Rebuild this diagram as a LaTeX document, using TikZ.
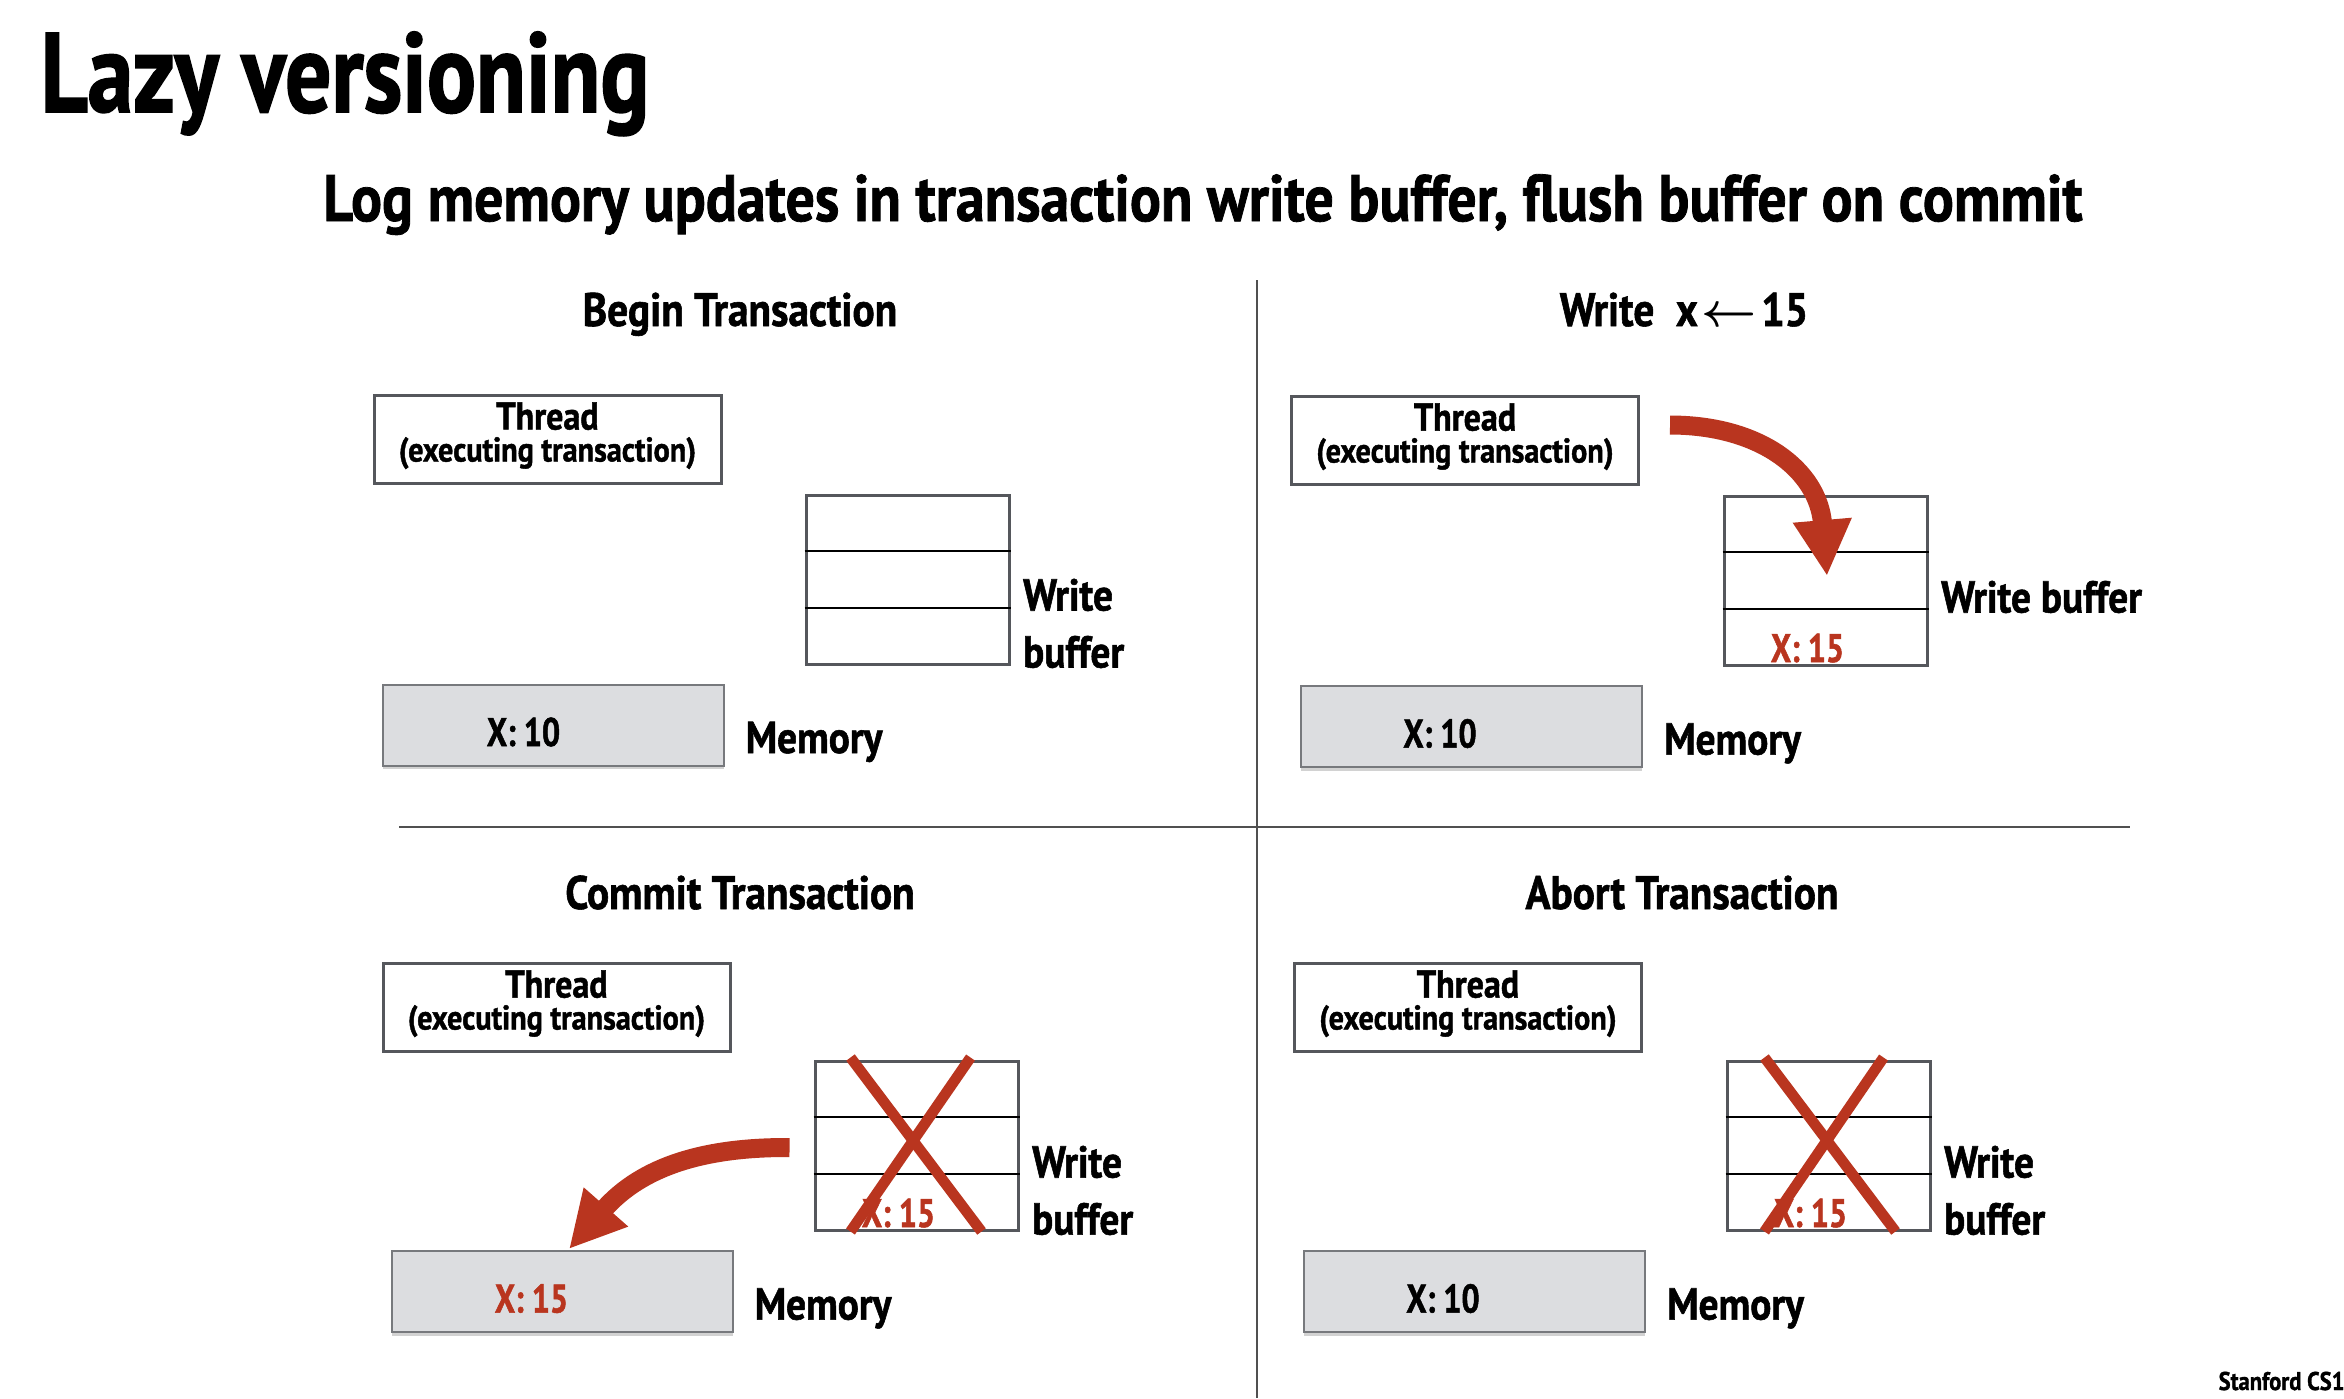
\documentclass[tikz,border=0pt]{standalone}
\usepackage{amsmath}
\usepackage{fontspec}
\setmainfont{PT Sans}[FakeStretch=0.88, FakeBold=1.2]
\newfontfamily\ftitle{PT Sans}[FakeStretch=0.81, FakeBold=1.4]
\newfontfamily\fval{PT Sans}[FakeStretch=0.80, FakeBold=1.2]
\usetikzlibrary{calc,arrows.meta,shadows}
\definecolor{hlred}{RGB}{185,53,31}
\definecolor{memfill}{RGB}{220,221,224}
\definecolor{boxline}{RGB}{85,87,92}
\definecolor{divline}{RGB}{80,80,80}
\tikzset{
  threadbox/.style={draw=boxline, line width=0.9pt, fill=white, minimum width=104.1pt, minimum height=26.4pt, inner sep=0pt},
  bufbox/.style={draw=boxline, line width=0.9pt, fill=white, minimum width=60.9pt, minimum height=50.7pt, inner sep=0pt},
  membox/.style={draw=boxline!80, line width=0.6pt, fill=memfill, minimum width=102.3pt, minimum height=24.3pt, inner sep=0pt, drop shadow={shadow xshift=0pt, shadow yshift=-1.1pt, opacity=0.35}},
  bufsep/.style={black, line width=0.75pt},
  divider/.style={divline, line width=0.6pt},
  redx/.style={hlred, line width=3.2pt},
  redarrow/.style={hlred, line width=5.7pt, -{Triangle[length=16.8pt,width=16.5pt]}},
  ttltxt/.style={font=\ftitle\fontsize{33.9}{40}\selectfont\bfseries, inner sep=0pt},
  subtxt/.style={font=\fontsize{19.7}{24}\selectfont\bfseries, inner sep=0pt},
  qtxt/.style={font=\fontsize{14.1}{17}\selectfont\bfseries, inner sep=0pt},
  thrtxt/.style={font=\fontsize{11.6}{14}\selectfont\bfseries, inner sep=0pt},
  exectxt/.style={font=\fontsize{10.3}{12}\selectfont\bfseries, inner sep=0pt},
  lbltxt/.style={font=\fontsize{13.4}{16}\selectfont\bfseries, inner sep=0pt, anchor=base west},
  valtxt/.style={font=\fval\fontsize{12}{14}\selectfont\bfseries, inner sep=0pt, anchor=base},
  foottxt/.style={font=\fontsize{7.7}{9}\selectfont\bfseries, inner sep=0pt, anchor=base west}
}
\begin{document}
\begin{tikzpicture}[x=0.3pt,y=-0.3pt]
\useasboundingbox (0,0) rectangle (2344,1398);
\fill[white] (0,0) rectangle (2344,1398);

% titles
\node[ttltxt, anchor=base west] (title) at (40,112) {Lazy versioning};
\node[subtxt, anchor=base] (subtitle) at (1203,221) {Log memory updates in transaction write buffer, flush buffer on commit};

% dividers
\draw[divider] (1257,280) -- (1257,1398);
\draw[divider] (399,827) -- (2130,827);

% quadrant titles
\node[qtxt, anchor=base] (q1) at (740,326) {Begin Transaction};
\node[qtxt, anchor=base] (q2) at (1684,326) {Write\hspace{6.5pt}x\hspace{1pt}$\boldsymbol{\leftarrow}$\hspace{1.5pt}15};
\node[qtxt, anchor=base] (q3) at (740,909) {Commit Transaction};
\node[qtxt, anchor=base] (q4) at (1682,909) {Abort Transaction};

% ---------- Quadrant 1: Begin ----------
\node[threadbox] (t1) at (547.5,439) {};
\node[thrtxt, anchor=base] (t1a) at ($(t1.north)+(0,36)$) {Thread};
\node[exectxt, anchor=base] (t1b) at ($(t1.north)+(0,68)$) {(executing transaction)};
\node[bufbox] (wb1) at (907.5,579.5) {};
\draw[bufsep] ($(wb1.north west)!1/3!(wb1.south west)$) -- ($(wb1.north east)!1/3!(wb1.south east)$);
\draw[bufsep] ($(wb1.north west)!2/3!(wb1.south west)$) -- ($(wb1.north east)!2/3!(wb1.south east)$);
\node[lbltxt] (wb1l1) at ($(wb1.east)+(12,31)$) {Write};
\node[lbltxt] (wb1l2) at ($(wb1.east)+(12,88)$) {buffer};
\node[membox] (m1) at (553.5,725) {};
\node[valtxt] (m1v) at ($(m1.center)+(-30,21)$) {X: 10};
\node[lbltxt] (m1l) at ($(m1.east)+(20,28)$) {Memory};

% ---------- Quadrant 2: Write ----------
\node[threadbox] (t2) at (1465,440) {};
\node[thrtxt, anchor=base] (t2a) at ($(t2.north)+(0,36)$) {Thread};
\node[exectxt, anchor=base] (t2b) at ($(t2.north)+(0,68)$) {(executing transaction)};
\node[bufbox] (wb2) at (1825.5,580.5) {};
\draw[bufsep] ($(wb2.north west)!1/3!(wb2.south west)$) -- ($(wb2.north east)!1/3!(wb2.south east)$);
\draw[bufsep] ($(wb2.north west)!2/3!(wb2.south west)$) -- ($(wb2.north east)!2/3!(wb2.south east)$);
\node[valtxt, text=hlred] (wb2v) at ($(wb2.center)+(-18,81.5)$) {X: 15};
\node[lbltxt] (wb2l) at ($(wb2.east)+(12,32)$) {Write buffer};
\node[membox] (m2) at (1471,726.5) {};
\node[valtxt] (m2v) at ($(m2.center)+(-31,21)$) {X: 10};
\node[lbltxt] (m2l) at ($(m2.east)+(21,28)$) {Memory};
\coordinate (a2s) at ($(t2.east)+(30,-15)$);
\coordinate (a2e) at (1827,576);
\draw[redarrow] (a2s) .. controls (1760,425) and (1818,470) .. (a2e);

% ---------- Quadrant 3: Commit ----------
\node[threadbox] (t3) at (556.5,1007) {};
\node[thrtxt, anchor=base] (t3a) at ($(t3.north)+(0,36)$) {Thread};
\node[exectxt, anchor=base] (t3b) at ($(t3.north)+(0,68)$) {(executing transaction)};
\node[bufbox] (wb3) at (916.5,1145.5) {};
\draw[bufsep] ($(wb3.north west)!1/3!(wb3.south west)$) -- ($(wb3.north east)!1/3!(wb3.south east)$);
\draw[bufsep] ($(wb3.north west)!2/3!(wb3.south west)$) -- ($(wb3.north east)!2/3!(wb3.south east)$);
\node[valtxt, text=hlred] (wb3v) at ($(wb3.center)+(-18,81.5)$) {X: 15};
\draw[redx] ($(wb3.north west)+(37,-2)$) -- ($(wb3.north west)+(168,172)$);
\draw[redx] ($(wb3.north west)+(157,-2)$) -- ($(wb3.north west)+(37,172)$);
\node[lbltxt] (wb3l1) at ($(wb3.east)+(12,32)$) {Write};
\node[lbltxt] (wb3l2) at ($(wb3.east)+(12,89)$) {buffer};
\node[membox] (m3) at (562.5,1291.5) {};
\node[valtxt, text=hlred] (m3v) at ($(m3.center)+(-31,21)$) {X: 15};
\node[lbltxt] (m3l) at ($(m3.east)+(20,28)$) {Memory};
\coordinate (a3s) at ($(wb3.west)+(-24,2)$);
\coordinate (a3e) at (569,1249);
\draw[redarrow] (a3s) .. controls (705,1147) and (642,1166) .. (a3e);

% ---------- Quadrant 4: Abort ----------
\node[threadbox] (t4) at (1468,1007) {};
\node[thrtxt, anchor=base] (t4a) at ($(t4.north)+(0,36)$) {Thread};
\node[exectxt, anchor=base] (t4b) at ($(t4.north)+(0,68)$) {(executing transaction)};
\node[bufbox] (wb4) at (1828.5,1145.5) {};
\draw[bufsep] ($(wb4.north west)!1/3!(wb4.south west)$) -- ($(wb4.north east)!1/3!(wb4.south east)$);
\draw[bufsep] ($(wb4.north west)!2/3!(wb4.south west)$) -- ($(wb4.north east)!2/3!(wb4.south east)$);
\node[valtxt, text=hlred] (wb4v) at ($(wb4.center)+(-18,81.5)$) {X: 15};
\draw[redx] ($(wb4.north west)+(39,-2)$) -- ($(wb4.north west)+(170,172)$);
\draw[redx] ($(wb4.north west)+(158,-2)$) -- ($(wb4.north west)+(39,172)$);
\node[lbltxt] (wb4l1) at ($(wb4.east)+(12,32)$) {Write};
\node[lbltxt] (wb4l2) at ($(wb4.east)+(12,89)$) {buffer};
\node[membox] (m4) at (1474,1291.5) {};
\node[valtxt] (m4v) at ($(m4.center)+(-31,21)$) {X: 10};
\node[lbltxt] (m4l) at ($(m4.east)+(21,28)$) {Memory};

% footer
\node[foottxt] (foot) at (2218,1390) {Stanford CS1};
\end{tikzpicture}
\end{document}
